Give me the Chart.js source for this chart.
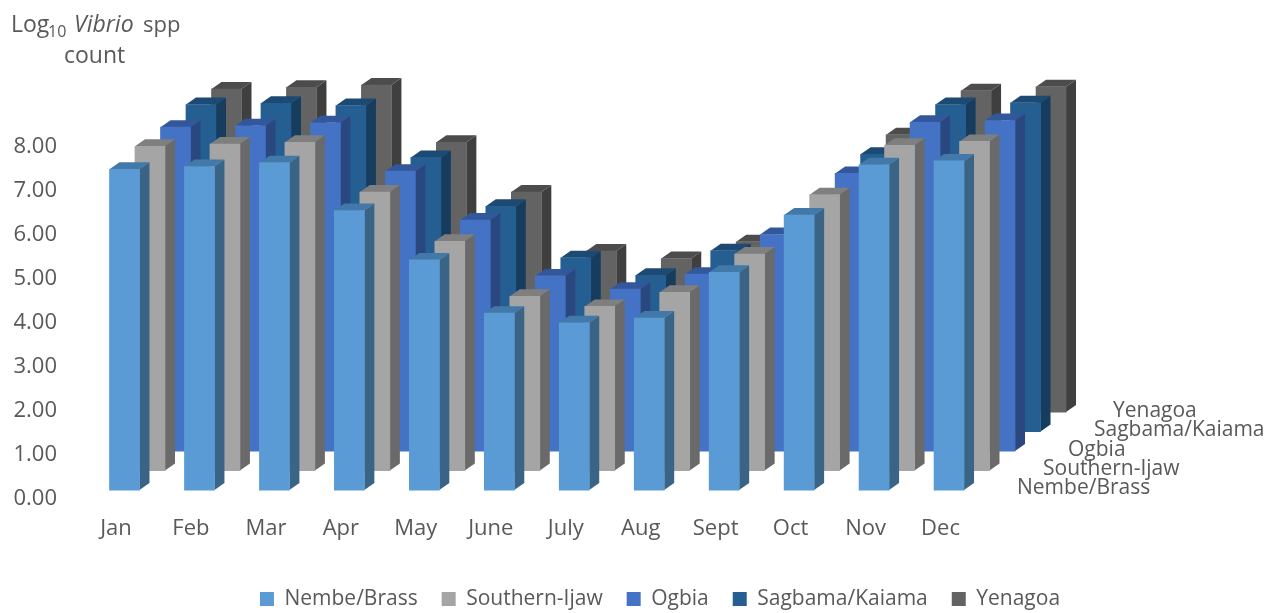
<!DOCTYPE html>
<html>
<head>
<meta charset="utf-8">
<title>Vibrio counts</title>
<script src="https://cdn.jsdelivr.net/npm/chart.js@4"></script>
<style>
  html, body { margin: 0; padding: 0; background: #fff; }
  #wrap { width: 1274px; height: 613px; }
</style>
</head>
<body>
<div id="wrap"><canvas id="myChart"></canvas></div>
<script>
var months = ["Jan", "Feb", "Mar", "Apr", "May", "June", "July", "Aug", "Sept", "Oct", "Nov", "Dec"];
var seriesNames = ["Nembe/Brass", "Southern-Ijaw", "Ogbia", "Sagbama/Kaiama", "Yenagoa"];

var nembe    = [7.29, 7.35, 7.44, 6.35, 5.23, 4.02, 3.80, 3.91, 4.95, 6.25, 7.39, 7.48];
var southern = [7.37, 7.42, 7.46, 6.33, 5.21, 3.96, 3.73, 4.05, 4.92, 6.27, 7.39, 7.48];
var ogbia    = [7.36, 7.39, 7.46, 6.36, 5.25, 3.98, 3.68, 4.02, 4.92, 6.31, 7.47, 7.51];
var sagbama  = [7.43, 7.46, 7.41, 6.23, 5.12, 3.95, 3.55, 4.11, 4.90, 6.30, 7.43, 7.47];
var yenagoa  = [7.34, 7.38, 7.43, 6.13, 5.00, 3.66, 3.49, 3.87, 4.90, 6.30, 7.30, 7.39];
var allSeries = [nembe, southern, ogbia, sagbama, yenagoa];

// front, side and top face of each row
var frontColors = ["#5b9bd5", "#a5a5a5", "#4472c4", "#255e91", "#636363"];
var sideColors  = ["#3a6486", "#6a6a6a", "#2b4780", "#163c5e", "#3f3f3f"];
var topColors   = ["#4279a8", "#7f7f7f", "#33579b", "#1c4a73", "#4c4c4c"];

var textColor = "#595959";
var fontName = "'Open Sans'";

// how far each row sits back from the axis, and the bar depth
function rowShiftX(i) { return 8.5 + i * 25.5; }
function rowShiftY(i) { return -8.5 - i * 19.5; }
var depthX = 10;
var depthY = 7;

// row names on the depth side
var depthLabelLeft = [1017, 1043, 1068, 1094, 1113];
var depthLabelMid  = [488, 469, 450, 430, 411];

var bars3d = {
  id: "bars3d",
  beforeDatasetDraw: function(chart, args) {
    var ctx = chart.ctx;
    var i = args.index;
    ctx.save();
    ctx.translate(rowShiftX(i), rowShiftY(i));
    args.meta.data.forEach(function(bar) {
      var l = bar.x - bar.width / 2;
      var r = bar.x + bar.width / 2;
      ctx.fillStyle = sideColors[i];
      ctx.beginPath();
      ctx.moveTo(r, bar.y);
      ctx.lineTo(r + depthX, bar.y - depthY);
      ctx.lineTo(r + depthX, bar.base - depthY);
      ctx.lineTo(r, bar.base);
      ctx.closePath();
      ctx.fill();
      ctx.fillStyle = topColors[i];
      ctx.beginPath();
      ctx.moveTo(l, bar.y);
      ctx.lineTo(l + depthX, bar.y - depthY);
      ctx.lineTo(r + depthX, bar.y - depthY);
      ctx.lineTo(r, bar.y);
      ctx.closePath();
      ctx.fill();
    });
  },
  afterDatasetDraw: function(chart) {
    chart.ctx.restore();
  }
};

var extraText = {
  id: "extraText",
  afterLayout: function(chart) {
    // legend sits under the whole drawing, not just the plot
    var lg = chart.legend;
    var h = lg.bottom - lg.top;
    lg.left = 46;
    lg.right = 1274;
    lg.top = 564.5;
    lg.bottom = lg.top + h;
  },
  afterDraw: function(chart) {
    var ctx = chart.ctx;
    ctx.save();
    ctx.fillStyle = textColor;
    ctx.textBaseline = "middle";
    ctx.textAlign = "left";
    ctx.font = "21px " + fontName;
    seriesNames.forEach(function(name, i) {
      ctx.fillText(name, depthLabelLeft[i], depthLabelMid[i]);
    });

    // axis title, mixed styles so it is built piece by piece
    ctx.textBaseline = "alphabetic";
    ctx.font = "23px " + fontName;
    ctx.fillText("Log", 11, 32);
    ctx.fillText("count", 64, 63);
    ctx.font = "22px " + fontName;
    ctx.fillText("spp", 143, 32);
    ctx.font = "16px " + fontName;
    ctx.fillText("10", 48, 37);
    ctx.font = "italic 23px " + fontName;
    ctx.fillText("Vibrio", 74, 32);
    ctx.restore();
  }
};

var datasets = seriesNames.map(function(name, i) {
  return {
    label: name,
    data: allSeries[i],
    backgroundColor: frontColors[i],
    barThickness: 30,
    clip: false
  };
});

new Chart(document.getElementById("myChart"), {
  type: "bar",
  data: { labels: months, datasets: datasets },
  plugins: [bars3d, extraText],
  options: {
    responsive: true,
    maintainAspectRatio: false,
    animation: false,
    layout: { padding: { left: 0, right: 296, top: 146.5, bottom: 8 } },
    plugins: {
      tooltip: { enabled: false },
      legend: {
        position: "bottom",
        labels: {
          color: textColor,
          font: { family: fontName, size: 21 },
          boxWidth: 14,
          boxHeight: 14,
          padding: 24
        }
      }
    },
    scales: {
      x: {
        grid: { display: false },
        border: { display: false },
        ticks: { color: textColor, font: { family: fontName, size: 22 }, padding: 8.5, maxRotation: 0, autoSkip: false }
      },
      y: {
        min: 0,
        max: 8,
        grid: { display: false },
        border: { display: false },
        ticks: {
          stepSize: 1,
          color: textColor,
          font: { family: fontName, size: 22 },
          padding: 13.5,
          callback: function(v) { return v.toFixed(2); }
        }
      }
    },
    datasets: { bar: { grouped: false } }
  }
});
</script>
</body>
</html>
